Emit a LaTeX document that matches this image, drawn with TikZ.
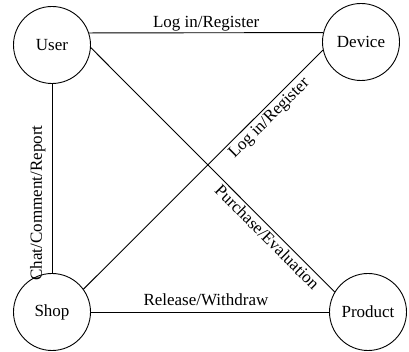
\documentclass[tikz,border=0pt]{standalone}
\usepackage{fontspec}
\setmainfont{Liberation Serif}
\begin{document}
\begin{tikzpicture}[x=1pt,y=1pt,
  ent/.style={circle, draw, line width=0.9pt, minimum size=77pt, inner sep=0pt, font=\fontsize{17}{20}\selectfont},
  conn/.style={line width=0.9pt},
  lbl/.style={font=\fontsize{17}{20}\selectfont}]
\useasboundingbox (0,0) rectangle (409,352);
\node[ent] (user) at (52,307) {User};
\node[ent] (device) at (361,310) {Device};
\node[ent] (shop) at (52,40) {Shop};
\node[ent] (product) at (368,40) {Product};
\draw[conn] (user.18.5) -- (device.166.3)
  node[lbl, midway, anchor=base, yshift=5.5pt] {Log in/Register};
\draw[conn] (shop.east) -- (product.west)
  node[lbl, pos=0.483, anchor=base, yshift=6pt] {Release/Withdraw};
\draw[conn] (shop.north) -- (user.south)
  node[lbl, pos=0.37, sloped, above, inner sep=6pt] {Chat/Comment/Report};
\draw[conn] (shop.36) -- (device.192)
  node[lbl, pos=0.745, sloped, below, inner sep=3pt] {Log in/Register};
\draw[conn] (user.-4) -- (product.149)
  node[lbl, pos=0.75, sloped, below, inner sep=2.5pt] {Purchase/Evaluation};
\end{tikzpicture}
\end{document}
